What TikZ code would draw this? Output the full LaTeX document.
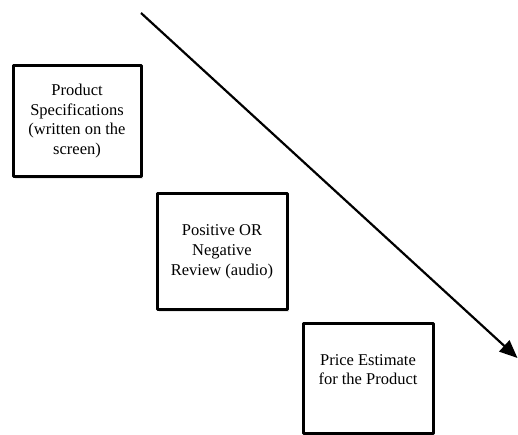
\documentclass[tikz,border=0pt]{standalone}
\usepackage{fontspec}
\setmainfont{Liberation Serif}
\usetikzlibrary{arrows.meta,shadows}
\begin{document}
\begin{tikzpicture}[x=1pt, y=-1pt, font=\fontsize{16.5}{19.8}\selectfont, line join=round, >={Triangle[length=18pt,width=15pt]},
    stage/.style={draw, line width=3pt, fill=white, align=center, inner sep=2pt, drop shadow={opacity=0.18, shadow xshift=1.5pt, shadow yshift=-2.5pt}}]
            \useasboundingbox (0,0) rectangle (518,435);
            \node[stage, minimum width=128pt, minimum height=111pt] (spec) at (77,121) {Product\\Specifications\\(written on the\\screen)};
            \node[stage, minimum width=130pt, minimum height=115pt] (review) at (222,251.5) {Positive OR\\Negative\\Review (audio)};
            \node[stage, minimum width=130pt, minimum height=110pt] (price) at (368,378) {Price Estimate\\for the Product\\[-3pt]\mbox{}};
            \coordinate (start) at (141,13);
            \coordinate (end) at (517.5,358);
            \draw[->, line width=2.2pt] (start) -- (end);
    \end{tikzpicture}
\end{document}
